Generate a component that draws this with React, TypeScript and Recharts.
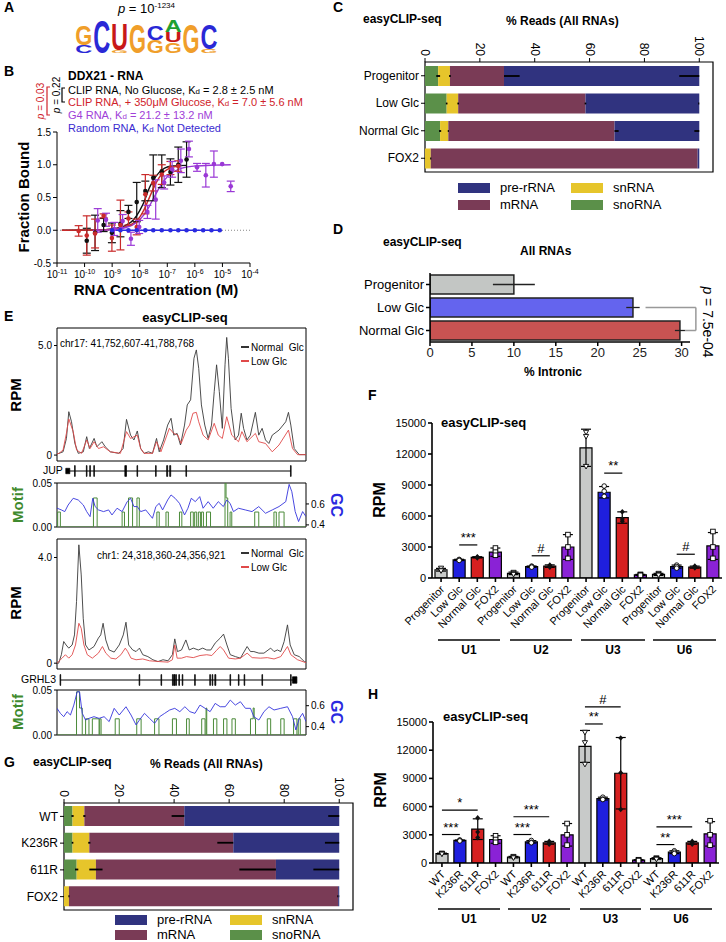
import React from "react";
import {
  BarChart, Bar, ComposedChart, LineChart, Line, Scatter, XAxis, YAxis,
  ErrorBar, Cell, ReferenceLine, ReferenceArea
} from "recharts";

const FONT = '"Liberation Sans", Arial, Helvetica, sans-serif';

// ---------- A: motif logo ----------
const logoLetters = [["C", "G"], ["C"], ["G", "U"], ["G"], ["G", "C"], ["G", "U", "A"], ["G"], ["G", "C"]];
const logoBits = [[0.46, 1.21], [1.98], [0.16, 1.62], [1.78], [0.81, 0.87], [0.67, 0.61, 0.71], [1.78], [0.26, 1.52]];
const LOGO_COLORS: Record<string, string> = { G: "#f09e2a", C: "#2a28d6", U: "#c81818", A: "#1fa032" };

// ---------- B: binding curves ----------
const noGlcConc = [1.2e-10, 2.4e-10, 4.9e-10, 9.8e-10, 2.0e-9, 3.9e-9, 7.8e-9, 1.6e-8, 3.1e-8, 6.3e-8, 1.3e-7, 2.5e-7, 5.0e-7];
const noGlcFrac = [-0.16, -0.04, 0.08, -0.04, 0.1, 0.28, 0.43, 0.6, 0.8, 0.9, 0.89, 1.0, 1.08];
const noGlcErr = [0.19, 0.27, 0.1, 0.15, 0.2, 0.1, 0.3, 0.15, 0.35, 0.25, 0.2, 0.27, 0.27];
const glcConc = [6.1e-11, 1.2e-10, 2.4e-10, 4.9e-10, 9.8e-10, 2.0e-9, 3.9e-9, 7.8e-9, 1.6e-8, 3.1e-8, 6.3e-8, 1.3e-7, 2.5e-7];
const glcFrac = [-0.01, -0.08, -0.05, 0.22, -0.12, 0.08, 0.18, 0.05, 0.55, 0.72, 0.85, 0.95, 0.98];
const glcErr = [0.08, 0.3, 0.22, 0.03, 0.2, 0.38, 0.1, 0.12, 0.3, 0.12, 0.15, 0.1, 0.08];
const g4Conc = [3.0e-10, 6.0e-10, 1.2e-9, 2.4e-9, 4.8e-9, 9.6e-9, 1.9e-8, 3.8e-8, 7.7e-8, 1.5e-7, 3.1e-7, 6.1e-7, 1.2e-6, 2.5e-6, 4.9e-6, 9.8e-6, 2.0e-5];
const g4Frac = [0.15, 0.16, 0.02, 0.14, -0.13, 0.05, 0.28, 0.47, 0.73, 0.93, 1.06, 1.24, 0.96, 0.84, 1.01, 1.01, 0.67];
const g4Err = [0.18, 0.1, 0.1, 0.1, 0.1, 0.1, 0.1, 0.3, 0.1, 0.12, 0.18, 0.12, 0.06, 0.18, 0.2, 0, 0.08];
const randConc = [1.0e-9, 2.0e-9, 3.9e-9, 7.8e-9, 1.6e-8, 3.1e-8, 6.3e-8, 1.3e-7, 2.5e-7, 5.0e-7, 1.0e-6, 2.0e-6, 4.0e-6, 8.0e-6];
const randFrac = [0, 0, 0, 0, 0, 0, 0, 0, 0, 0, 0, 0, 0, 0];
const fitNoGlc: [number, number][] = [[1.5e-11, 0], [3e-10, 0.005], [1e-9, 0.02], [3e-9, 0.07], [6e-9, 0.16], [1e-8, 0.3], [1.5e-8, 0.45], [2e-8, 0.6], [3e-8, 0.75], [5e-8, 0.88], [8e-8, 0.95], [1.5e-7, 0.98], [5e-7, 0.99]];
const fitGlc: [number, number][] = [[1.5e-11, 0], [3e-10, 0.004], [1e-9, 0.015], [3e-9, 0.05], [6e-9, 0.11], [1e-8, 0.2], [1.5e-8, 0.33], [2e-8, 0.45], [3e-8, 0.62], [5e-8, 0.8], [8e-8, 0.9], [1.5e-7, 0.96], [3e-7, 0.98]];
const fitG4: [number, number][] = [[2e-10, 0], [1e-9, 0.01], [3e-9, 0.04], [6e-9, 0.09], [1e-8, 0.16], [2e-8, 0.33], [3e-8, 0.47], [5e-8, 0.64], [8e-8, 0.77], [1.5e-7, 0.88], [3e-7, 0.94], [1e-6, 0.98], [5e-6, 0.995], [2e-5, 1.0]];
const concTicks = [1e-11, 1e-10, 1e-9, 1e-8, 1e-7, 1e-6, 1e-5, 1e-4];

// ---------- C / G: read composition ----------
const cSamples = ["Progenitor", "Low Glc", "Normal Glc", "FOX2"];
const cSno = [4.8, 7.9, 5.5, 0];
const cSn = [4.3, 4.2, 3.0, 2.1];
const cMrna = [19.7, 46.4, 60.6, 97.3];
const cPre = [71.2, 41.5, 30.9, 0.6];
const cSnoErr = [0.7, 0.3, 0.4, 0];
const cSnErr = [0.3, 0.3, 0.2, 0.2];
const cMrnaLo = [0, 0.3, 0, 0];
const cMrnaHi = [5.7, 0.3, 1.5, 0];
const cPreLo = [7.3, 0.4, 1.8, 0];

const gSamples = ["WT", "K236R", "611R", "FOX2"];
const gSno = [3.1, 3.1, 4.6, 0];
const gSn = [4.3, 6.1, 7.0, 1.8];
const gMrna = [36.3, 52.3, 65.4, 97.8];
const gPre = [56.3, 38.5, 23.0, 0.4];
const gSnoErr = [0.4, 0.3, 0.6, 0];
const gSnErr = [0.4, 0.4, 2.4, 0.2];
const gMrnaLo = [4.6, 5.8, 13.3, 0.3];
const gMrnaHi = [0, 0, 0, 0];
const gPreLo = [4.0, 5.2, 9.4, 0.2];

const RNA_COLORS = { pre: "#30337f", mrna: "#7a3b56", sn: "#e6c52b", sno: "#5b9049" };

// ---------- D: intronic ----------
const dSamples = ["Progenitor", "Low Glc", "Normal Glc"];
const dIntronic = [10.0, 24.2, 29.8];
const dErr = [2.5, 0.8, 0.6];
const D_COLORS = ["#c3c6c4", "#6464ee", "#c85352"];

// ---------- E: tracks ----------
const jupNormal: [number, number][] = [[62, 0.05], [68, 0.08], [80, 0.15], [90, 0.76], [97, 1.98], [105, 1.52], [115, 0.53], [125, 0.08], [140, 0.15], [150, 0.84], [158, 0.3], [172, 0.76], [180, 0.38], [195, 0.61], [205, 0.38], [220, 0.15], [245, 0.08], [258, 0.3], [268, 1.63], [280, 0.91], [290, 0.69], [300, 1.1], [310, 0.3], [320, 0.08], [333, 0.15], [345, 0.08], [357, 0.76], [365, 0.15], [378, 0.69], [390, 1.37], [400, 1.68], [408, 0.91], [418, 0.99], [428, 0.46], [440, 1.37], [448, 2.29], [458, 2.52], [468, 4.42], [475, 4.8], [482, 3.96], [490, 2.29], [500, 1.37], [510, 0.76], [520, 1.37], [528, 2.9], [535, 4.12], [543, 2.9], [552, 1.22], [560, 4.12], [565, 5.37], [570, 4.42], [578, 2.13], [590, 0.69], [600, 0.91], [608, 1.91], [615, 1.22], [625, 0.69], [635, 0.91], [650, 1.95], [660, 0.91], [670, 1.22], [680, 0.69], [690, 0.53], [700, 0.91], [720, 1.14], [740, 1.52], [748, 1.95], [755, 1.37], [765, 0.3], [780, 0.02], [800, 0.02]];
const jupLow: [number, number][] = [[62, 0.05], [68, 0.08], [80, 0.23], [90, 1.0], [97, 1.65], [110, 1.07], [120, 0.23], [135, 0.08], [150, 0.69], [160, 0.3], [172, 0.61], [185, 0.3], [200, 0.38], [220, 0.15], [250, 0.08], [268, 1.07], [280, 0.76], [300, 0.91], [310, 0.3], [320, 0.08], [345, 0.08], [357, 0.61], [370, 0.15], [395, 1.22], [408, 0.99], [420, 0.91], [430, 0.53], [445, 1.14], [455, 1.37], [465, 1.91], [475, 1.95], [482, 1.52], [495, 0.91], [510, 0.69], [528, 1.45], [540, 0.91], [552, 0.76], [565, 1.75], [580, 0.91], [600, 0.61], [610, 1.07], [625, 0.61], [650, 0.99], [660, 0.61], [680, 0.53], [700, 0.15], [720, 0.46], [748, 1.14], [760, 0.3], [775, 0.02], [800, 0.02]];
const jupGC: [number, number][] = [[62, 0.56], [75, 0.543], [85, 0.527], [95, 0.59], [110, 0.654], [125, 0.638], [140, 0.59], [150, 0.527], [160, 0.479], [168, 0.654], [175, 0.575], [185, 0.543], [200, 0.527], [215, 0.543], [225, 0.495], [240, 0.559], [255, 0.527], [270, 0.622], [280, 0.654], [290, 0.575], [300, 0.575], [310, 0.527], [325, 0.543], [345, 0.463], [355, 0.575], [365, 0.606], [375, 0.543], [390, 0.638], [400, 0.686], [412, 0.654], [425, 0.606], [440, 0.495], [450, 0.559], [460, 0.654], [472, 0.622], [485, 0.67], [495, 0.559], [510, 0.622], [525, 0.559], [540, 0.622], [555, 0.575], [565, 0.638], [575, 0.606], [585, 0.527], [600, 0.559], [620, 0.543], [640, 0.527], [660, 0.575], [680, 0.511], [700, 0.543], [720, 0.575], [740, 0.622], [750, 0.787], [758, 0.717], [768, 0.527], [778, 0.432], [790, 0.527], [800, 0.479]];
const jupMotif: [number, number][] = [[62, 0], [64, 0.017], [72, 0], [170, 0.033], [181, 0], [255, 0.017], [262, 0], [274, 0.033], [286, 0], [299, 0.033], [306, 0], [358, 0.017], [365, 0], [385, 0.017], [392, 0], [425, 0.017], [432, 0], [458, 0.017], [466, 0], [470, 0.017], [476, 0], [481, 0.017], [487, 0], [490, 0.017], [496, 0], [505, 0.017], [517, 0], [560, 0.05], [563, 0.033], [568, 0], [575, 0.017], [580, 0], [648, 0.017], [660, 0], [705, 0.017], [712, 0], [720, 0.017], [735, 0], [800, 0]];
const jupLine = [90, 755];
const jupExons: number[][] = [[88, 100, 0.5], [114, 116], [149, 151], [159, 161], [171, 173], [263, 268], [299, 301], [354, 356], [387, 390], [396, 399], [444, 446], [754, 756]];

const grhNormal: [number, number][] = [[55, 0], [60, 0], [68, 0.32], [75, 0.82], [82, 0.69], [90, 0.57], [100, 0.69], [107, 1.07], [113, 2.33], [120, 4.48], [127, 3.34], [133, 1.7], [140, 0.69], [150, 0.5], [165, 0.63], [178, 0.95], [185, 1.07], [192, 1.51], [200, 0.88], [210, 0.5], [225, 0.42], [240, 0.69], [252, 1.07], [260, 1.55], [268, 0.69], [280, 0.5], [290, 0.44], [300, 0.57], [310, 0.32], [325, 0.25], [340, 0.13], [355, 0.06], [370, 0.13], [385, 0.09], [398, 0.32], [405, 0.92], [413, 0.44], [425, 0.5], [438, 0.88], [448, 0.5], [460, 0.57], [475, 0.5], [488, 0.57], [500, 0.5], [512, 0.5], [525, 0.76], [540, 0.95], [550, 1.1], [560, 0.69], [570, 0.32], [585, 0.25], [600, 0.19], [620, 0.63], [630, 0.44], [640, 0.44], [655, 0.38], [670, 0.38], [690, 0.57], [700, 0.44], [710, 0.5], [720, 0.44], [730, 0.82], [740, 1.45], [748, 0.69], [760, 0.32], [775, 0.25], [790, 0.06], [795, 0.04]];
const grhLow: [number, number][] = [[55, 0], [70, 0.19], [80, 0.32], [90, 0.19], [100, 0.32], [110, 0.69], [120, 1.51], [127, 1.32], [135, 0.69], [145, 0.32], [160, 0.19], [178, 0.38], [190, 0.63], [200, 0.38], [215, 0.19], [230, 0.16], [245, 0.32], [258, 0.57], [265, 0.44], [275, 0.19], [290, 0.13], [310, 0.16], [330, 0.09], [360, 0.06], [385, 0.04], [398, 0.13], [405, 0.69], [412, 0.19], [425, 0.19], [440, 0.25], [460, 0.21], [480, 0.29], [500, 0.32], [515, 0.29], [528, 0.47], [540, 0.63], [550, 0.5], [565, 0.19], [585, 0.16], [600, 0.19], [620, 0.38], [635, 0.21], [660, 0.19], [680, 0.21], [700, 0.16], [720, 0.25], [740, 0.63], [750, 0.32], [770, 0.13], [790, 0.04], [795, 0.02]];
const grhGC: [number, number][] = [[55, 0.575], [65, 0.527], [75, 0.495], [85, 0.543], [95, 0.511], [105, 0.606], [115, 0.733], [122, 0.733], [130, 0.527], [140, 0.463], [150, 0.479], [165, 0.495], [180, 0.479], [195, 0.495], [210, 0.448], [225, 0.575], [240, 0.511], [260, 0.59], [275, 0.511], [290, 0.416], [300, 0.463], [315, 0.527], [330, 0.479], [345, 0.432], [360, 0.495], [375, 0.527], [390, 0.559], [405, 0.575], [420, 0.543], [435, 0.59], [450, 0.543], [465, 0.527], [480, 0.606], [495, 0.575], [510, 0.543], [525, 0.622], [540, 0.59], [555, 0.59], [570, 0.654], [585, 0.606], [600, 0.638], [615, 0.575], [630, 0.575], [640, 0.495], [655, 0.463], [670, 0.543], [685, 0.59], [700, 0.559], [720, 0.575], [740, 0.59], [755, 0.495], [765, 0.368], [775, 0.479], [785, 0.527], [795, 0.448]];
const grhMotif: [number, number][] = [[55, 0], [113, 0.048], [122, 0.03], [130, 0], [140, 0.018], [150, 0], [160, 0.018], [180, 0], [182, 0.018], [186, 0], [228, 0.018], [240, 0], [292, 0.018], [305, 0], [345, 0.018], [358, 0], [398, 0.018], [410, 0], [440, 0.018], [448, 0], [485, 0.018], [495, 0], [498, 0.03], [500, 0], [520, 0.018], [530, 0], [550, 0.018], [560, 0], [575, 0.018], [585, 0], [630, 0.018], [638, 0.03], [641, 0.018], [645, 0], [680, 0.018], [690, 0], [720, 0.018], [730, 0], [758, 0.018], [768, 0], [772, 0.018], [778, 0], [795, 0]];
const grhLine = [65, 765];
const grhExons: number[][] = [[64, 66], [299, 301], [364, 366], [398, 401], [403, 406], [408, 410], [417, 419], [427, 429], [464, 466], [509, 511], [516, 518], [524, 527], [569, 571], [594, 596], [611, 613], [664, 666], [749, 751], [755, 768, 0.6]];

// ---------- F / H: snRNA RPM ----------
const snGroups = ["U1", "U2", "U3", "U6"];
const fConditions = ["Progenitor", "Low Glc", "Normal Glc", "FOX2"];
const fMean = [800, 1750, 2000, 2500, 450, 1100, 1150, 3000, 12600, 8300, 5850, 300, 350, 1100, 1050, 3100];
const fErr = [130, 60, 60, 400, 120, 60, 120, 1200, 1800, 550, 550, 50, 100, 150, 100, 1300];
const fRep1 = [950, 1800, 2050, 2900, 550, 1150, 1250, 4200, 14100, 8900, 6400, 350, 450, 1250, 1150, 4500];
const fRep2 = [750, 1750, 2000, 2500, 450, 1100, 1150, 3000, 13700, 8400, 5700, 300, 350, 1100, 1050, 3000];
const fRep3 = [700, 1700, 1950, 2200, 350, 1050, 1050, 1900, 10800, 7900, 5500, 260, 280, 950, 980, 1900];
const fSig = [
  { from: "U1-1", to: "U1-2", y: 3200, label: "***" },
  { from: "U2-1", to: "U2-2", y: 2150, label: "#" },
  { from: "U3-1", to: "U3-2", y: 10150, label: "**" },
  { from: "U6-1", to: "U6-2", y: 2300, label: "#" },
];

const hConditions = ["WT", "K236R", "611R", "FOX2"];
const hMean = [1000, 2400, 3600, 2500, 620, 2250, 2150, 3000, 12400, 6850, 9550, 300, 480, 1150, 2150, 3100];
const hErr = [50, 50, 1100, 400, 80, 130, 150, 1200, 1700, 150, 3800, 50, 80, 150, 150, 1300];
const hRep1 = [1050, 2450, 4800, 2900, 700, 2400, 2300, 4200, 13900, 7000, 13300, 350, 550, 1300, 2300, 4500];
const hRep2 = [1000, 2400, 3300, 2500, 600, 2200, 2150, 3000, 12800, 6800, 9600, 300, 480, 1150, 2150, 3000];
const hRep3 = [950, 2350, 2700, 2200, 550, 2150, 2000, 1900, 10500, 6750, 5700, 260, 400, 1000, 2000, 1900];
const hSig = [
  { from: "U1-0", to: "U1-1", y: 3030, label: "***" },
  { from: "U1-0", to: "U1-2", y: 5630, label: "*" },
  { from: "U2-0", to: "U2-1", y: 3030, label: "***" },
  { from: "U2-0", to: "U2-2", y: 4920, label: "***" },
  { from: "U3-0", to: "U3-1", y: 14790, label: "**" },
  { from: "U3-0", to: "U3-2", y: 16600, label: "#" },
  { from: "U6-0", to: "U6-1", y: 1960, label: "**" },
  { from: "U6-0", to: "U6-2", y: 3850, label: "***" },
];
const BAR_COLORS = ["#c8cac9", "#1f1fde", "#d62020", "#8a22d6"];

// ---------- helpers ----------
const Lbl = ({ x, y, children, size = 11, bold = false, color = "#000", anchor = "start", rotate = 0 }: any) => {
  const tx = anchor === "start" ? "0" : anchor === "middle" ? "-50%" : "-100%";
  return (
    <div style={{
      position: "absolute", left: x, top: y, fontSize: size, fontWeight: bold ? 700 : 400, color,
      whiteSpace: "nowrap", lineHeight: 1.1, transform: `translate(${tx}, -50%) rotate(${rotate}deg)`,
    }}>{children}</div>
  );
};
const At = ({ x, y, children }: any) => <div style={{ position: "absolute", left: x, top: y }}>{children}</div>;
const Kd = () => <span>K<span style={{ fontSize: "0.72em" }}>d</span></span>;
const toXY = (a: [number, number][]) => a.map(([x, v]) => ({ x, v }));
const toCV = (c: number[], v: number[], e?: number[]) => c.map((cc, i) => ({ c: cc, v: v[i], e: e ? e[i] : 0 }));

function Logo() {
  const rows = logoLetters.map((ls, i) => ({
    pos: i + 1,
    s0: logoBits[i][0] || 0, s1: logoBits[i][1] || 0, s2: logoBits[i][2] || 0,
    l0: ls[0], l1: ls[1], l2: ls[2],
  }));
  const shape = (k: number) => (p: any) => {
    const l = p.payload[`l${k}`];
    if (!l || !p.height) return <g />;
    return (
      <g transform={`translate(${p.x},${p.y + p.height}) scale(${p.width / 72},${p.height / 71})`}>
        <text x={0} y={0} fontSize={100} fontWeight={700} fill={LOGO_COLORS[l]} textLength={72} lengthAdjust="spacingAndGlyphs">{l}</text>
      </g>
    );
  };
  return (
    <BarChart width={160} height={58} data={rows} margin={{ top: 15, right: 12, bottom: 10, left: 5 }} barCategoryGap="2%">
      <XAxis dataKey="pos" hide />
      <YAxis hide domain={[0, 2]} />
      {[0, 1, 2].map((k) => (
        <Bar key={k} dataKey={`s${k}`} stackId="a" isAnimationActive={false} shape={shape(k)} />
      ))}
    </BarChart>
  );
}

const PowTick = ({ x, y, payload }: any) => {
  const e = Math.round(Math.log10(payload.value));
  return (
    <text x={x} y={y + 9} textAnchor="middle" fontSize={10} fill="#000">
      10<tspan dy={-4} fontSize={7}>{e}</tspan>
    </text>
  );
};

function Binding() {
  const dot = (color: string) => (p: any) => <circle cx={p.cx} cy={p.cy} r={2.3} fill={color} />;
  const series = [
    { pts: toCV(noGlcConc, noGlcFrac, noGlcErr), fit: fitNoGlc, color: "#111111" },
    { pts: toCV(glcConc, glcFrac, glcErr), fit: fitGlc, color: "#c92a2a" },
    { pts: toCV(g4Conc, g4Frac, g4Err), fit: fitG4, color: "#9a38d6" },
  ];
  return (
    <ComposedChart width={275} height={185} margin={{ top: 12, right: 25, bottom: 17, left: 30 }}>
      <XAxis type="number" dataKey="c" scale="log" domain={[1e-11, 1e-4]} ticks={concTicks} allowDataOverflow
        tick={(p: any) => <PowTick {...p} />} tickSize={4} stroke="#000" height={25} interval={0} />
      <YAxis type="number" domain={[-0.5, 1.5]} ticks={[-0.5, 0, 0.5, 1, 1.5]} tickFormatter={(v: number) => v.toFixed(1)}
        width={27} tickSize={4} stroke="#000" tick={{ fontSize: 10, fill: "#000" }} />
      <ReferenceLine y={0} stroke="#888" strokeDasharray="1 2" />
      {series.map((s, i) => (
        <Line key={`f${i}`} data={s.fit.map(([c, v]) => ({ c, v }))} dataKey="v" type="monotone" stroke={s.color}
          strokeWidth={1.4} dot={false} isAnimationActive={false} />
      ))}
      <Line data={toCV(randConc, randFrac)} dataKey="v" stroke="#2a2ae0" strokeWidth={1.4} dot={false} isAnimationActive={false} />
      {series.map((s, i) => (
        <Scatter key={`s${i}`} data={s.pts} dataKey="v" shape={dot(s.color)} isAnimationActive={false}>
          <ErrorBar dataKey="e" direction="y" width={4} stroke={s.color} strokeWidth={1.2} />
        </Scatter>
      ))}
      <Scatter data={toCV(randConc, randFrac)} dataKey="v" shape={dot("#2a2ae0")} isAnimationActive={false} />
    </ComposedChart>
  );
}

const VTick = ({ x, y, payload }: any) => (
  <text x={x} y={y} transform={`rotate(90, ${x}, ${y})`} textAnchor="end" dominantBaseline="central" fontSize={12} fill="#000">
    {payload.value}
  </text>
);

const CatTick = ({ x, y, payload, size }: any) => (
  <text x={x} y={y} dy="0.35em" textAnchor="end" fontSize={size} fill="#000">{payload.value}</text>
);

function ReadsChart({ names, sno, sn, mrna, pre, snoE, snE, mrnaLo, mrnaHi, preLo, width, height, margin, yWidth }: any) {
  const rows = names.map((n: string, i: number) => ({
    name: n, sno: sno[i], sn: sn[i], mrna: mrna[i], pre: pre[i],
    snoE: snoE[i], snE: snE[i], mrnaE: [mrnaLo[i], mrnaHi[i]], preE: [preLo[i], 0],
  }));
  const keys: [string, string, string][] = [["sno", "snoE", RNA_COLORS.sno], ["sn", "snE", RNA_COLORS.sn], ["mrna", "mrnaE", RNA_COLORS.mrna], ["pre", "preE", RNA_COLORS.pre]];
  return (
    <BarChart layout="vertical" data={rows} width={width} height={height} margin={margin} barSize={20}>
      <XAxis type="number" orientation="top" domain={[0, 105]} ticks={[0, 20, 40, 60, 80, 100]} tick={(p: any) => <VTick {...p} />}
        height={25} stroke="#000" tickSize={4} axisLine={false} interval={0} />
      <YAxis type="category" dataKey="name" width={yWidth} tick={(p: any) => <CatTick {...p} size={12} />} tickSize={4} axisLine={false} stroke="#000" />
      {keys.map(([k, e, c]) => (
        <Bar key={k} dataKey={k} stackId="s" fill={c} isAnimationActive={false}>
          <ErrorBar dataKey={e} direction="x" width={0} stroke="#000" strokeWidth={1.8} />
        </Bar>
      ))}
      <ReferenceArea x1={0} x2={105} fill="none" stroke="#000" strokeWidth={1.2} />
    </BarChart>
  );
}

function RnaLegend({ x, y, gapX, gapY }: any) {
  const items = [["pre-rRNA", RNA_COLORS.pre], ["snRNA", RNA_COLORS.sn], ["mRNA", RNA_COLORS.mrna], ["snoRNA", RNA_COLORS.sno]];
  return (
    <>
      {items.map(([name, c], i) => {
        const lx = x + (i % 2) * gapX;
        const ly = y + Math.floor(i / 2) * gapY;
        return (
          <React.Fragment key={name}>
            <div style={{ position: "absolute", left: lx, top: ly - 5, width: 32, height: 10, background: c }} />
            <Lbl x={lx + 42} y={ly} size={13}>{name}</Lbl>
          </React.Fragment>
        );
      })}
    </>
  );
}

function Intronic() {
  const rows = dSamples.map((n, i) => ({ name: n, v: dIntronic[i], e: dErr[i] }));
  return (
    <BarChart layout="vertical" data={rows} width={376} height={115} margin={{ top: 8, right: 36, bottom: 13, left: 18 }} barSize={19}>
      <XAxis type="number" domain={[0, 31]} ticks={[0, 5, 10, 15, 20, 25, 30]} height={25} tick={{ fontSize: 13, fill: "#222" }}
        stroke="#000" strokeWidth={1.5} tickSize={4} allowDataOverflow interval={0} />
      <YAxis type="category" dataKey="name" width={62} tick={(p: any) => <CatTick {...p} size={13} />} stroke="#000" strokeWidth={1.5} tickSize={4} />
      <Bar dataKey="v" stroke="#222" strokeWidth={1.5} isAnimationActive={false}>
        {rows.map((_, i) => <Cell key={i} fill={D_COLORS[i]} />)}
        <ErrorBar dataKey="e" direction="x" width={0} stroke="#222" strokeWidth={1.3} />
      </Bar>
      <ReferenceLine segment={[{ x: 25.7, y: "Low Glc" }, { x: 31.7, y: "Low Glc" }]} stroke="#999" strokeWidth={1.5} ifOverflow="visible" />
      <ReferenceLine segment={[{ x: 30.4, y: "Normal Glc" }, { x: 31.7, y: "Normal Glc" }]} stroke="#999" strokeWidth={1.5} ifOverflow="visible" />
      <ReferenceLine segment={[{ x: 31.7, y: "Low Glc" }, { x: 31.7, y: "Normal Glc" }]} stroke="#999" strokeWidth={1.5} ifOverflow="visible" />
    </BarChart>
  );
}

function RpmTrack({ normal, low, domainX, domainY, ticks, height, margin }: any) {
  return (
    <LineChart width={320} height={height} margin={margin}>
      <XAxis type="number" dataKey="x" domain={domainX} hide allowDataOverflow />
      <YAxis type="number" domain={domainY} ticks={ticks} tickFormatter={(v: number) => (v === 0 ? "0" : v.toFixed(1))}
        width={22} tickSize={3} axisLine={false} stroke="#000" tick={{ fontSize: 10, fill: "#000" }} allowDataOverflow />
      <ReferenceArea x1={domainX[0]} x2={domainX[1]} y1={domainY[0]} y2={domainY[1]} fill="none" stroke="#000" strokeWidth={1} />
      <Line data={toXY(normal)} dataKey="v" stroke="#3a3a3a" strokeWidth={0.9} dot={false} isAnimationActive={false} />
      <Line data={toXY(low)} dataKey="v" stroke="#e04a4a" strokeWidth={0.9} dot={false} isAnimationActive={false} />
    </LineChart>
  );
}

function MotifTrack({ motif, gc, domainX, gcDomain, height, margin }: any) {
  return (
    <ComposedChart width={340} height={height} margin={margin}>
      <XAxis type="number" dataKey="x" domain={domainX} hide allowDataOverflow />
      <YAxis yAxisId="m" type="number" domain={[0, 0.05]} ticks={[0, 0.05]} tickFormatter={(v: number) => v.toFixed(2)}
        width={37} tickSize={3} axisLine={false} stroke="#000" tick={{ fontSize: 10, fill: "#000" }} allowDataOverflow />
      <YAxis yAxisId="gc" orientation="right" type="number" domain={gcDomain} ticks={[0.4, 0.6]} tickFormatter={(v: number) => v.toFixed(1)}
        width={20} tickSize={3} axisLine={false} stroke="#000" tick={{ fontSize: 10, fill: "#000" }} allowDataOverflow />
      <ReferenceArea yAxisId="m" x1={domainX[0]} x2={domainX[1]} y1={0} y2={0.05} fill="none" stroke="#000" strokeWidth={1} />
      <Line yAxisId="m" data={toXY(motif)} dataKey="v" type="stepAfter" stroke="#4c8b3a" strokeWidth={1} dot={false} isAnimationActive={false} />
      <Line yAxisId="gc" data={toXY(gc)} dataKey="v" stroke="#3434dc" strokeWidth={0.9} dot={false} isAnimationActive={false} />
    </ComposedChart>
  );
}

function GeneTrack({ domainX, line, exons }: any) {
  const rows = exons.map((e: number[]) => ({ s: e[0], y: 0 }));
  return (
    <ComposedChart width={320} height={18} data={rows} margin={{ top: 0, right: 14, bottom: 0, left: 57 }}>
      <XAxis type="number" dataKey="s" domain={domainX} hide allowDataOverflow />
      <YAxis type="number" domain={[-1, 1]} hide allowDataOverflow />
      <Scatter dataKey="y" shape={() => <g />} isAnimationActive={false} />
      <ReferenceLine segment={[{ x: line[0], y: 0 }, { x: line[1], y: 0 }]} stroke="#000" strokeWidth={1} ifOverflow="visible" />
      {exons.map((e: number[], i: number) => {
        const h = e[2] || 1;
        return <ReferenceArea key={i} x1={e[0]} x2={e[1]} y1={-0.6 * h} y2={0.6 * h} fill="#000" fillOpacity={1} stroke="#000" strokeWidth={0.7} ifOverflow="visible" />;
      })}
    </ComposedChart>
  );
}

const SlantTick = ({ x, y, payload, labels }: any) => (
  <text x={x + 4} y={y + 6} transform={`rotate(-45, ${x + 4}, ${y + 6})`} textAnchor="end" fontSize={11} fill="#000">
    {labels[payload.value]}
  </text>
);

const RepDot = (p: any) => {
  const { cx, cy, payload } = p;
  if (cx == null || cy == null) return <g />;
  const k = payload.kind;
  if (k === 0) return <path d={`M${cx - 2.6},${cy - 2} L${cx + 2.6},${cy - 2} L${cx},${cy + 2.6} Z`} fill="#fff" stroke="#000" strokeWidth={0.9} />;
  if (k === 1) return <circle cx={cx} cy={cy} r={2.3} fill="#fff" stroke="#000" strokeWidth={0.9} />;
  if (k === 2) return <path d={`M${cx},${cy - 2.8} L${cx + 2.5},${cy} L${cx},${cy + 2.8} L${cx - 2.5},${cy} Z`} fill="#111" />;
  return <rect x={cx - 2.3} y={cy - 2.3} width={4.6} height={4.6} fill="#fff" stroke="#000" strokeWidth={0.9} />;
};

function RpmBars({ conditions, mean, err, r1, r2, r3, sig, height, margin, xHeight }: any) {
  const rows = mean.map((m: number, i: number) => ({
    id: `${snGroups[Math.floor(i / 4)]}-${i % 4}`, kind: i % 4, mean: m, err: err[i], r1: r1[i], r2: r2[i], r3: r3[i],
  }));
  const labels: Record<string, string> = {};
  rows.forEach((r: any) => { labels[r.id] = conditions[r.kind]; });
  return (
    <ComposedChart width={363} height={height} data={rows} margin={margin} barSize={12}>
      <XAxis dataKey="id" interval={0} tick={(p: any) => <SlantTick {...p} labels={labels} />} height={xHeight}
        stroke="#000" strokeWidth={1.6} tickSize={4} />
      <YAxis type="number" domain={[0, 15000]} ticks={[0, 3000, 6000, 9000, 12000, 15000]} width={40}
        tick={{ fontSize: 11, fill: "#000" }} stroke="#000" strokeWidth={1.6} tickSize={4} allowDataOverflow />
      <Bar dataKey="mean" stroke="#000" strokeWidth={1.2} isAnimationActive={false}>
        {rows.map((r: any, i: number) => <Cell key={i} fill={BAR_COLORS[r.kind]} />)}
        <ErrorBar dataKey="err" width={5} stroke="#000" strokeWidth={1.2} />
      </Bar>
      {["r1", "r2", "r3"].map((k) => (
        <Scatter key={k} dataKey={k} shape={RepDot} isAnimationActive={false} />
      ))}
      {sig.map((s: any, i: number) => (
        <ReferenceLine key={i} segment={[{ x: s.from, y: s.y }, { x: s.to, y: s.y }]} stroke="#000" strokeWidth={1.2}
          ifOverflow="visible" label={{ value: s.label, position: "top", fontSize: 13, fill: "#000", offset: 3 }} />
      ))}
    </ComposedChart>
  );
}

function GroupBar({ x1, x2, y, label }: any) {
  return (
    <>
      <div style={{ position: "absolute", left: x1, top: y, width: x2 - x1, height: 1.6, background: "#444" }} />
      <Lbl x={(x1 + x2) / 2} y={y + 12} size={12} bold anchor="middle">{label}</Lbl>
    </>
  );
}

function TrackLegend({ y }: any) {
  return (
    <>
      <div style={{ position: "absolute", left: 241, top: y - 1, width: 8, height: 1.5, background: "#333" }} />
      <Lbl x={251} y={y} size={10}>Normal&nbsp;&nbsp;Glc</Lbl>
      <div style={{ position: "absolute", left: 241, top: y + 13, width: 8, height: 1.5, background: "#e04a4a" }} />
      <Lbl x={251} y={y + 14} size={10}>Low Glc</Lbl>
    </>
  );
}

export default function App() {
  return (
    <div style={{ position: "absolute", left: 0, top: 0, width: 726, height: 942, background: "#fff", fontFamily: FONT, color: "#000", overflow: "hidden" }}>
      {/* A */}
      <Lbl x={4} y={8} size={14} bold>A</Lbl>
      <Lbl x={118} y={9} size={13}><i>p</i> = 10<sup style={{ fontSize: 8 }}>-1234</sup></Lbl>
      <At x={70} y={5}><Logo /></At>

      {/* B */}
      <Lbl x={4} y={72} size={14} bold>B</Lbl>
      <Lbl x={68} y={77} size={12} bold>DDX21 - RNA</Lbl>
      <Lbl x={68} y={90} size={11}>CLIP RNA, No Glucose, <Kd /> = 2.8 ± 2.5 nM</Lbl>
      <Lbl x={68} y={102} size={11} color="#d0222a">CLIP RNA, + 350μM Glucose, <Kd /> = 7.0 ± 5.6 nM</Lbl>
      <Lbl x={68} y={115} size={11} color="#a040d8">G4 RNA, <Kd /> = 21.2 ± 13.2 nM</Lbl>
      <Lbl x={68} y={128} size={11} color="#3a2ad0">Random RNA, <Kd /> Not Detected</Lbl>
      <Lbl x={56} y={95} size={10} rotate={-90} anchor="middle"><i>p</i> = 0.22</Lbl>
      <Lbl x={40} y={101} size={10} rotate={-90} anchor="middle" color="#d0222a"><i>p</i> = 0.03</Lbl>
      <svg style={{ position: "absolute", left: 0, top: 0 }} width={80} height={130}>
        <path d="M65,88 H62 V102 H65" fill="none" stroke="#000" strokeWidth={1.2} />
        <path d="M50,87 H47 V115 H50" fill="none" stroke="#d0222a" strokeWidth={1.2} />
      </svg>
      <At x={0} y={120}><Binding /></At>
      <Lbl x={24} y={197} size={15} bold rotate={-90} anchor="middle">Fraction Bound</Lbl>
      <Lbl x={156} y={290} size={15} bold anchor="middle">RNA Concentration (M)</Lbl>

      {/* C */}
      <Lbl x={333} y={8} size={14} bold>C</Lbl>
      <Lbl x={363} y={20} size={12} bold>easyCLIP-seq</Lbl>
      <Lbl x={506} y={22} size={12} bold>% Reads (All RNAs)</Lbl>
      <At x={350} y={0}>
        <ReadsChart names={cSamples} sno={cSno} sn={cSn} mrna={cMrna} pre={cPre} snoE={cSnoErr} snE={cSnErr}
          mrnaLo={cMrnaLo} mrnaHi={cMrnaHi} preLo={cPreLo}
          width={376} height={215} margin={{ top: 37, right: 13, bottom: 43, left: 20 }} yWidth={55} />
      </At>
      <RnaLegend x={458} y={188} gapX={113} gapY={17} />

      {/* D */}
      <Lbl x={333} y={230} size={14} bold>D</Lbl>
      <Lbl x={383} y={243} size={12} bold>easyCLIP-seq</Lbl>
      <Lbl x={520} y={252} size={12} bold>All RNAs</Lbl>
      <At x={350} y={265}><Intronic /></At>
      <Lbl x={553} y={373} size={12} bold anchor="middle">% Intronic</Lbl>
      <Lbl x={707} y={322} size={14} rotate={90} anchor="middle"><i>p</i> = 7.5e-04</Lbl>

      {/* E */}
      <Lbl x={4} y={317} size={14} bold>E</Lbl>
      <Lbl x={185} y={318} size={13} bold anchor="middle">easyCLIP-seq</Lbl>
      <At x={0} y={320}>
        <RpmTrack normal={jupNormal} low={jupLow} domainX={[62, 800]} domainY={[-0.27, 5.8]} ticks={[0, 5]} height={150}
          margin={{ top: 8, right: 14, bottom: 9, left: 35 }} />
      </At>
      <Lbl x={60} y={343} size={10}>chr17: 41,752,607-41,788,768</Lbl>
      <TrackLegend y={347} />
      <Lbl x={16} y={395} size={15} bold rotate={-90} anchor="middle">RPM</Lbl>
      <At x={0} y={462}><GeneTrack domainX={[62, 800]} line={jupLine} exons={jupExons} /></At>
      <Lbl x={43} y={471} size={10.5}>JUP</Lbl>
      <At x={0} y={475}>
        <MotifTrack motif={jupMotif} gc={jupGC} domainX={[62, 800]} gcDomain={[0.38, 0.8]} height={60}
          margin={{ top: 8, right: 14, bottom: 8, left: 20 }} />
      </At>
      <Lbl x={18} y={505} size={15} bold rotate={-90} anchor="middle" color="#3f8a2e">Motif</Lbl>
      <Lbl x={336} y={505} size={16} bold rotate={90} anchor="middle" color="#2a2ae0">GC</Lbl>

      <At x={0} y={530}>
        <RpmTrack normal={grhNormal} low={grhLow} domainX={[55, 795]} domainY={[-0.22, 4.7]} ticks={[0, 4]} height={145}
          margin={{ top: 9, right: 14, bottom: 6, left: 35 }} />
      </At>
      <Lbl x={97} y={555} size={10}>chr1: 24,318,360-24,356,921</Lbl>
      <TrackLegend y={553} />
      <Lbl x={16} y={603} size={15} bold rotate={-90} anchor="middle">RPM</Lbl>
      <At x={0} y={671}><GeneTrack domainX={[55, 795]} line={grhLine} exons={grhExons} /></At>
      <Lbl x={21} y={680} size={10.5}>GRHL3</Lbl>
      <At x={0} y={682}>
        <MotifTrack motif={grhMotif} gc={grhGC} domainX={[55, 795]} gcDomain={[0.32, 0.75]} height={60}
          margin={{ top: 8, right: 14, bottom: 7, left: 20 }} />
      </At>
      <Lbl x={18} y={712} size={15} bold rotate={-90} anchor="middle" color="#3f8a2e">Motif</Lbl>
      <Lbl x={336} y={712} size={16} bold rotate={90} anchor="middle" color="#2a2ae0">GC</Lbl>

      {/* F */}
      <Lbl x={368} y={396} size={14} bold>F</Lbl>
      <At x={363} y={410}>
        <RpmBars conditions={fConditions} mean={fMean} err={fErr} r1={fRep1} r2={fRep2} r3={fRep3} sig={fSig}
          height={250} margin={{ top: 13, right: 4, bottom: 22, left: 29 }} xHeight={60} />
      </At>
      <Lbl x={441} y={423} size={13} bold>easyCLIP-seq</Lbl>
      <Lbl x={380} y={500} size={16} bold rotate={-90} anchor="middle">RPM</Lbl>
      <GroupBar x1={438} x2={500} y={639} label="U1" />
      <GroupBar x1={510} x2={572} y={639} label="U2" />
      <GroupBar x1={581} x2={645} y={639} label="U3" />
      <GroupBar x1={653} x2={716} y={639} label="U6" />

      {/* G */}
      <Lbl x={4} y={763} size={14} bold>G</Lbl>
      <Lbl x={33} y={763} size={12} bold>easyCLIP-seq</Lbl>
      <Lbl x={150} y={765} size={12} bold>% Reads (All RNAs)</Lbl>
      <At x={0} y={755}>
        <ReadsChart names={gSamples} sno={gSno} sn={gSn} mrna={gMrna} pre={gPre} snoE={gSnoErr} snE={gSnErr}
          mrnaLo={gMrnaLo} mrnaHi={gMrnaHi} preLo={gPreLo}
          width={363} height={187} margin={{ top: 23, right: 10, bottom: 32, left: 14 }} yWidth={50} />
      </At>
      <RnaLegend x={115} y={920} gapX={115} gapY={15} />

      {/* H */}
      <Lbl x={368} y={695} size={14} bold>H</Lbl>
      <At x={363} y={690}>
        <RpmBars conditions={hConditions} mean={hMean} err={hErr} r1={hRep1} r2={hRep2} r3={hRep3} sig={hSig}
          height={252} margin={{ top: 32, right: 7, bottom: 24, left: 30 }} xHeight={55} />
      </At>
      <Lbl x={443} y={717} size={13} bold>easyCLIP-seq</Lbl>
      <Lbl x={381} y={790} size={16} bold rotate={-90} anchor="middle">RPM</Lbl>
      <GroupBar x1={438} x2={500} y={908} label="U1" />
      <GroupBar x1={508} x2={570} y={908} label="U2" />
      <GroupBar x1={580} x2={641} y={908} label="U3" />
      <GroupBar x1={650} x2={712} y={908} label="U6" />
    </div>
  );
}
